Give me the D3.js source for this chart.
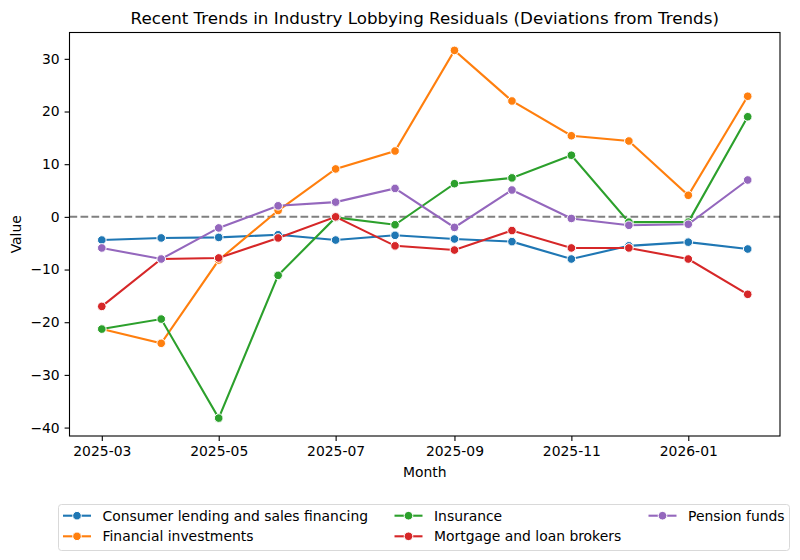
<!DOCTYPE html>
<html>
<head>
<meta charset="utf-8">
<script src="https://cdn.jsdelivr.net/npm/d3@7"></script>
<style>
  body { margin: 0; background: #fff; }
  svg text { font-family: "DejaVu Sans", sans-serif; fill: #000; }
</style>
</head>
<body>
<svg id="chart" width="800" height="560"></svg>
<script>
// data
var months = ["2025-03", "2025-04", "2025-05", "2025-06", "2025-07", "2025-08",
              "2025-09", "2025-10", "2025-11", "2025-12", "2026-01", "2026-02"];
var seriesNames = ["Consumer lending and sales financing", "Financial investments",
                   "Insurance", "Mortgage and loan brokers", "Pension funds"];
var consumerLending = [-4.4, -4.0, -3.9, -3.4, -4.4, -3.5, -4.2, -4.7, -8.0, -5.5, -4.8, -6.1];
var financialInvest = [-21.3, -24.0, -8.2, 1.2, 9.1, 12.5, 31.6, 22.0, 15.4, 14.4, 4.1, 22.9];
var insurance       = [-21.3, -19.4, -38.2, -11.1, -0.1, -1.5, 6.3, 7.4, 11.7, -1.0, -1.0, 19.0];
var mortgage        = [-17.0, -8.0, -7.8, -4.0, 0.0, -5.5, -6.3, -2.6, -5.9, -5.9, -8.0, -14.7];
var pension         = [-5.9, -8.0, -2.1, 2.1, 2.8, 5.4, -2.0, 5.1, -0.3, -1.6, -1.4, 7.0];
var yTicks = [-40, -30, -20, -10, 0, 10, 20, 30];
var xTickMonths = ["2025-03", "2025-05", "2025-07", "2025-09", "2025-11", "2026-01"];
var colors = ["#1f77b4", "#ff7f0e", "#2ca02c", "#d62728", "#9467bd"];

var allSeries = [consumerLending, financialInvest, insurance, mortgage, pension];

var svg = d3.select("#chart");
var margin = {left: 69.5, right: 20, top: 32.5, bottom: 124};
var width = 800, height = 560;
var parse = d3.timeParse("%Y-%m");
var dates = months.map(parse);

var pad = (dates[dates.length - 1] - dates[0]) * 0.05;
var x = d3.scaleTime()
  .domain([new Date(+dates[0] - pad), new Date(+dates[dates.length - 1] + pad)])
  .range([margin.left, width - margin.right]);
var y = d3.scaleLinear()
  .domain([-41.6, 35.0])
  .range([height - margin.bottom, margin.top]);

// zero line
svg.append("line")
  .attr("x1", x.range()[0]).attr("x2", x.range()[1])
  .attr("y1", y(0)).attr("y2", y(0))
  .attr("stroke", "#808080")
  .attr("stroke-width", 2)
  .attr("stroke-dasharray", "7.7,3.3");

var line = d3.line()
  .x(function(d, i) { return x(dates[i]); })
  .y(function(d) { return y(d); });

allSeries.forEach(function(vals, k) {
  var g = svg.append("g");
  g.append("path")
    .attr("d", line(vals))
    .attr("fill", "none")
    .attr("stroke", colors[k])
    .attr("stroke-width", 2.1);
  g.selectAll("circle")
    .data(vals)
    .enter().append("circle")
      .attr("cx", function(d, i) { return x(dates[i]); })
      .attr("cy", function(d) { return y(d); })
      .attr("r", 4.3)
      .attr("fill", colors[k])
      .attr("stroke", "#fff")
      .attr("stroke-width", 1);
});

// axes
var xAxis = d3.axisBottom(x)
  .tickValues(xTickMonths.map(parse))
  .tickFormat(d3.timeFormat("%Y-%m"))
  .tickSizeOuter(0).tickSize(4.9).tickPadding(4.9);
var yAxis = d3.axisLeft(y)
  .tickValues(yTicks)
  .tickFormat(function(d) { return d < 0 ? "\u2212" + Math.abs(d) : d; })
  .tickSizeOuter(0).tickSize(4.9).tickPadding(4.9);

var gx = svg.append("g")
  .attr("transform", "translate(0," + (height - margin.bottom) + ")")
  .call(xAxis);
var gy = svg.append("g")
  .attr("transform", "translate(" + margin.left + ",0)")
  .call(yAxis);
[gx, gy].forEach(function(g) {
  g.selectAll("text").style("font-size", "13.9px").style("font-family", "DejaVu Sans");
  g.selectAll("line").attr("stroke", "#000").attr("stroke-width", 1.1);
  g.select(".domain").remove();
});

// frame
svg.append("rect")
  .attr("x", margin.left).attr("y", margin.top)
  .attr("width", width - margin.right - margin.left)
  .attr("height", height - margin.bottom - margin.top)
  .attr("fill", "none").attr("stroke", "#000").attr("stroke-width", 1.1);

// title and labels
svg.append("text")
  .attr("x", (margin.left + width - margin.right) / 2).attr("y", 24)
  .attr("text-anchor", "middle")
  .style("font-size", "16.7px")
  .text("Recent Trends in Industry Lobbying Residuals (Deviations from Trends)");
svg.append("text")
  .attr("x", (margin.left + width - margin.right) / 2).attr("y", 477)
  .attr("text-anchor", "middle")
  .style("font-size", "13.9px")
  .text("Month");
svg.append("text")
  .attr("transform", "translate(21," + ((margin.top + height - margin.bottom) / 2) + ") rotate(-90)")
  .attr("text-anchor", "middle")
  .style("font-size", "13.9px")
  .text("Value");

// legend
var legend = svg.append("g");
legend.append("rect")
  .attr("x", 58.5).attr("y", 504.5).attr("width", 731).attr("height", 46)
  .attr("rx", 3)
  .attr("fill", "#fff").attr("stroke", "#d9d9d9").attr("stroke-width", 1);
var colX = [102.5, 434, 688];
var rowY = [515.7, 536.3];
seriesNames.forEach(function(name, k) {
  var col = Math.floor(k / 2), row = k % 2;
  var tx = colX[col], ty = rowY[row];
  var item = legend.append("g");
  item.append("line")
    .attr("x1", tx - 39.5).attr("x2", tx - 11.5)
    .attr("y1", ty).attr("y2", ty)
    .attr("stroke", colors[k]).attr("stroke-width", 2.1);
  item.append("circle")
    .attr("cx", tx - 25.5).attr("cy", ty).attr("r", 4.3)
    .attr("fill", colors[k]).attr("stroke", "#fff").attr("stroke-width", 1);
  item.append("text")
    .attr("x", tx).attr("y", ty + 5)
    .style("font-size", "13.9px")
    .text(name);
});
</script>
</body>
</html>
